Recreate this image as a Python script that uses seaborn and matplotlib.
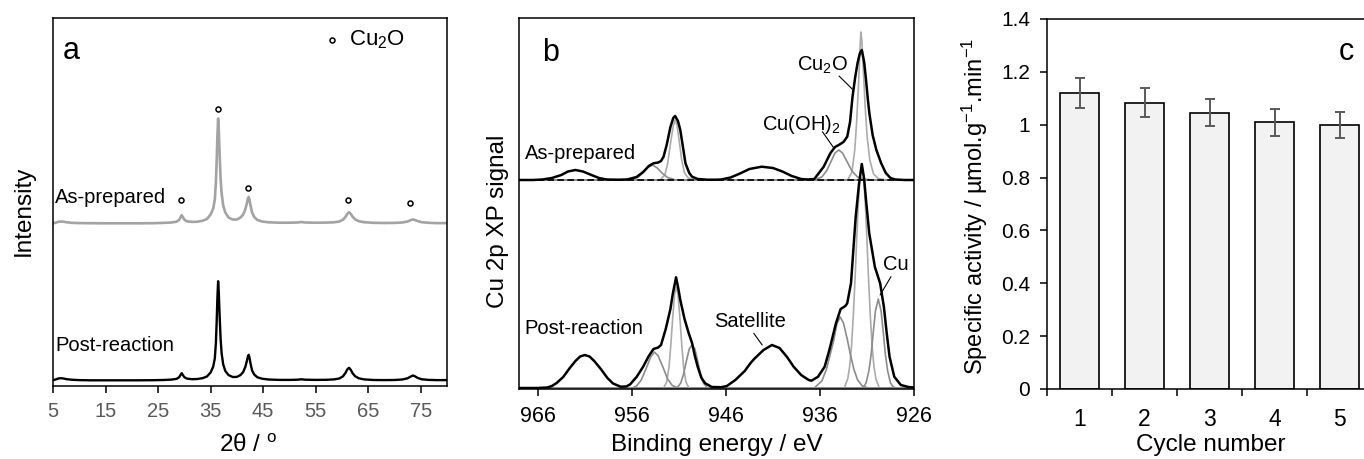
import numpy as np
import pandas as pd
import matplotlib
matplotlib.use("Agg")
import matplotlib.pyplot as plt
import seaborn as sns

# ---------------- Panel a : XRD ----------------
xrd_2theta = [5.0, 5.5, 6.0, 6.5, 7.0, 7.5, 8.5, 10, 12, 15, 18, 21, 24, 26, 27.5, 28.5,
              29.0, 29.3, 29.5, 29.7, 30.0, 30.5, 31.5, 32.5, 33.5, 34.3, 35.0, 35.5, 35.8,
              36.0, 36.15, 36.3, 36.43, 36.55, 36.7, 36.9, 37.1, 37.4, 37.8, 38.4, 39.2, 40.0,
              40.7, 41.2, 41.6, 41.9, 42.1, 42.25, 42.4, 42.6, 42.9, 43.3, 43.9, 44.8, 46, 48,
              50, 51.5, 52.3, 53, 55, 57, 58.5, 59.5, 60.2, 60.7, 61.0, 61.35, 61.7, 62.0, 62.5,
              63.2, 64.2, 66, 68, 70, 71.5, 72.5, 73.1, 73.5, 73.9, 74.4, 75.2, 76.5, 78, 80]
xrd_as_prepared = [0.2, 0.8, 1.7, 2.0, 1.8, 1.3, 0.7, 0.4, 0.3, 0.2, 0.2, 0.2, 0.3, 0.6, 1.0, 1.8,
                   3.5, 6.5, 8.3, 6.5, 3.8, 2.2, 1.6, 1.8, 2.8, 4.5, 9, 15, 24,
                   40, 62, 88, 105, 94, 72, 45, 30, 18, 11, 6, 4, 4,
                   6, 9, 14, 20, 25, 26.6, 24, 18, 11, 6.5, 3.5, 2, 1.2, 0.8,
                   0.8, 1.0, 1.5, 1.0, 0.8, 0.9, 1.2, 2.0, 3.8, 6.8, 9.5, 11.3, 9.5, 7, 4.2,
                   2.3, 1.3, 0.7, 0.5, 0.6, 1.0, 2.0, 3.4, 4.0, 3.5, 2.4, 1.3, 0.7, 0.4, 0.4]
xrd_post_reaction = [0.3, 1.0, 2.0, 2.3, 2.0, 1.4, 0.8, 0.4, 0.2, 0.2, 0.2, 0.2, 0.3, 0.5, 0.9, 1.6,
                     3.2, 5.8, 7.3, 5.6, 3.3, 1.9, 1.3, 1.5, 2.4, 4.0, 8.0, 14, 22,
                     37, 58, 84, 99.3, 89, 67, 42, 27, 16, 9.5, 5.5, 3.5, 3.6,
                     5.5, 8.5, 13.5, 19.5, 24, 25.7, 23, 17, 10, 6, 3.2, 1.8, 1.0, 0.6,
                     0.6, 0.8, 1.2, 0.8, 0.6, 0.7, 1.1, 2.0, 4.2, 7.8, 11, 12.7, 10.5, 7.5, 4.3,
                     2.2, 1.1, 0.5, 0.4, 0.5, 1.0, 2.2, 4.0, 5.0, 4.2, 2.6, 1.2, 0.6, 0.4, 0.4]
cu2o_marker_2theta = [29.4, 36.4, 42.2, 61.2, 73.0]
cu2o_marker_height = [186, 277.5, 198, 186, 183.5]
XRD_OFFSET_PREP = 162.5
XRD_OFFSET_POST = 5.5

# ---------------- Panel b : XPS Cu 2p ----------------
be_prep = [968, 966.5, 965.5, 964.5, 963.5, 962.8, 962, 961.2, 960.3, 959.5, 958.7, 957.5, 956.5,
           955.5, 954.8, 954.2, 953.7, 953.2, 952.9, 952.63, 952.3, 951.9, 951.6, 951.4, 951.1,
           950.85, 950.55, 950.3, 949.9, 949.6, 949, 948, 947, 946.5, 945.5, 944.5, 943.5, 942.2,
           941, 940, 939, 938, 937.3, 936.6, 935.6, 934.9, 934.4, 934.0, 933.5, 933.1, 932.8,
           932.54, 932.25, 932.0, 931.75, 931.55, 931.3, 931.1, 930.9, 930.75, 930.4, 930.0,
           929.5, 929.0, 928.5, 928, 927, 926]
sig_prep = [0, 0, 0.5, 2, 5, 8.5, 10, 8.5, 5, 2, 0.5, 0.3, 0.5,
            3, 8, 14, 16.7, 17.5, 19, 23.3, 35, 53, 62, 64, 59,
            50, 32, 16.7, 7, 3.3, 1, 0.3, 0.3, 0.5, 2.5, 6.5, 11, 13.3,
            12, 8.5, 4, 1, 0.5, 1, 13.3, 26.7, 33, 35, 38, 43.3, 58,
            83, 103, 117, 127, 130, 118, 100, 80, 67, 45, 30,
            17, 7, 2, 0.5, 0, 0]
prep_cu2o_32_be = [933.0, 932.6, 932.3, 932.1, 931.9, 931.75, 931.65, 931.55, 931.4, 931.2,
                   931.0, 930.7, 930.3, 929.8, 929.2]
prep_cu2o_32_sig = [1, 8, 30, 58, 95, 130, 148, 140, 112, 75, 45, 20, 6, 1.5, 0.5]
prep_cuoh_32_be = [936.5, 935.8, 935.3, 934.8, 934.4, 934.0, 933.6, 933.1, 932.6, 932.0, 931.3, 930.5]
prep_cuoh_32_sig = [0.3, 3, 9, 19, 27, 30, 27, 18, 9, 3, 0.8, 0.2]
prep_cu2o_12_be = [952.9, 952.5, 952.2, 951.9, 951.6, 951.4, 951.2, 950.95, 950.7, 950.4, 950.0, 949.5]
prep_cu2o_12_sig = [1, 5, 16, 36, 54, 60, 55, 38, 20, 7, 2, 0.5]
prep_cuoh_12_be = [956.0, 955.3, 954.8, 954.3, 953.8, 953.3, 952.8, 952.2, 951.5]
prep_cuoh_12_sig = [0.3, 3, 7.5, 12.5, 15, 12, 7, 2.5, 0.5]

be_post = [968, 966, 965, 964.5, 964, 963.3, 962.6, 962, 961.5, 961.0, 960.5, 960, 959.3, 958.6,
           958, 957.2, 956.6, 956.2, 955.5, 954.8, 954.2, 953.7, 953.2, 952.9, 952.4, 951.9,
           951.65, 951.3, 951.05, 950.85, 950.4, 949.95, 949.6, 949.3, 949.0, 948.6, 948.2,
           947.5, 946.5, 945.9, 945, 944, 943.4, 943, 942, 941.1, 940.3, 939.5, 938.8, 938,
           937.2, 936.9, 936.2, 935.5, 935.0, 934.3, 933.8, 933.3, 933.1, 932.7, 932.45, 932.2,
           931.85, 931.55, 931.3, 931.1, 930.76, 930.16, 929.6, 929.2, 928.9, 928.6, 928.1,
           927.4, 926.6, 926]
sig_post = [1, 1, 1.5, 3, 6, 12, 21, 28, 32.5, 34, 32.5, 28, 20, 11,
            5.5, 2.3, 2.5, 4.5, 12, 22.3, 33, 40, 41.5, 44, 60, 80,
            95, 111.7, 100, 89, 70, 55.7, 46, 33, 22.3, 11, 5.7,
            2, 1.8, 3, 9, 18, 25.7, 30, 39, 44, 41, 32, 22.3, 14,
            9, 8.3, 12.3, 22.3, 39, 65.7, 80, 83, 85.7, 105.7, 139, 172,
            205, 225, 210, 189, 155.7, 122, 105.7, 82, 55.7, 32.3, 12.3,
            4, 2, 1.5]
post_cu2o_32_be = [933.35, 933.05, 932.85, 932.65, 932.45, 932.26, 932.1, 931.95, 931.75, 931.55,
                   931.35, 931.15, 931.0, 930.84, 930.65, 930.45, 930.25, 930.05, 929.75]
post_cu2o_32_sig = [2.7, 10, 22, 42, 74, 112, 148, 180, 212, 224, 212, 180, 148, 112, 74, 42, 22, 10, 2.7]
post_cuoh_32_be = [936.5, 935.8, 935.3, 934.9, 934.55, 934.2, 933.85, 933.5, 933.1, 932.8, 932.4,
                   932.0, 931.5, 930.8]
post_cuoh_32_sig = [2, 8, 20, 35, 48, 65, 72, 66, 50, 36, 20, 9, 3, 0.8]
post_cu_32_be = [931.4, 931.1, 930.8, 930.55, 930.35, 930.1, 929.8, 929.5, 929.25, 929.05, 928.8,
                 928.5, 928.2, 927.8]
post_cu_32_sig = [1.5, 6, 18, 35, 55, 78, 90, 78, 55, 35, 18, 6, 2, 0.5]
post_cu2o_12_be = [952.6, 952.3, 952.05, 951.85, 951.65, 951.45, 951.28, 951.1, 950.9, 950.7,
                   950.5, 950.25, 949.95]
post_cu2o_12_sig = [1.5, 7, 22, 45, 72, 95, 102, 95, 72, 45, 22, 7, 1.5]
post_cuoh_12_be = [956.0, 955.5, 955.0, 954.5, 954.0, 953.6, 953.2, 952.7, 952.2, 951.7, 951.1]
post_cuoh_12_sig = [0.8, 3, 9, 20, 32, 37, 33, 22, 10, 3.5, 1]
post_cu_12_be = [951.2, 950.8, 950.5, 950.2, 949.9, 949.6, 949.3, 949.0, 948.7, 948.4, 948.0]
post_cu_12_sig = [1, 6, 15, 28, 40, 44, 40, 28, 15, 6, 1.5]
XPS_OFFSET_PREP = 209

# ---------------- Panel c : recycling ----------------
cycles = ["1", "2", "3", "4", "5"]
activity = [1.119, 1.084, 1.046, 1.010, 0.998]
activity_err = [0.057, 0.055, 0.052, 0.051, 0.050]
c_yticks = [0, 0.2, 0.4, 0.6, 0.8, 1.0, 1.2, 1.4]
c_yticklabels = ["0", "0.2", "0.4", "0.6", "0.8", "1", "1.2", "1.4"]

# ---------------- style ----------------
sns.set_theme(style="ticks")
plt.rcParams['font.family'] = ['Liberation Sans', 'DejaVu Sans']
plt.rcParams['mathtext.default'] = 'regular'
plt.rcParams['axes.linewidth'] = 1.1
plt.rcParams['axes.edgecolor'] = 'black'
plt.rcParams['text.color'] = 'black'
plt.rcParams['axes.labelcolor'] = 'black'
plt.rcParams['xtick.color'] = 'black'
plt.rcParams['ytick.color'] = 'black'

fig = plt.figure(figsize=(13.64, 4.59), dpi=100)
axa = fig.add_axes([0.03886, 0.15904, 0.28886, 0.80174])
axb = fig.add_axes([0.38050, 0.15251, 0.28959, 0.80828])
axc = fig.add_axes([0.76760, 0.15251, 0.23827, 0.80610])

BLACK = "black"
GREY_A = "#a3a3a3"
LIGHT = "#ababab"
MID = "#8c8c8c"

# ---- panel a ----
sns.lineplot(x=xrd_2theta, y=np.array(xrd_as_prepared) + XRD_OFFSET_PREP, ax=axa,
             color=GREY_A, lw=1.9, sort=False, estimator=None)
sns.lineplot(x=xrd_2theta, y=np.array(xrd_post_reaction) + XRD_OFFSET_POST, ax=axa,
             color=BLACK, lw=1.7, sort=False, estimator=None)
sns.scatterplot(x=cu2o_marker_2theta, y=cu2o_marker_height, ax=axa, marker="o", s=13,
                facecolor="white", edgecolor="black", linewidth=1.1, label="Cu$_2$O", zorder=5)
axa.set_xlim(5, 80)
axa.set_ylim(0, 368)
axa.set_xticks([5, 15, 25, 35, 45, 55, 65, 75])
axa.set_yticks([])
axa.tick_params(axis='x', direction='out', length=5, width=1.1, labelsize=14.5,
                labelcolor='#595959', pad=6.5, top=False)
axa.set_xlabel("2θ / $^{o}$", fontsize=17.5)
axa.set_ylabel("Intensity", fontsize=17.5)
axa.xaxis.set_label_coords(0.495, -0.163)
axa.xaxis.label.set_va('center')
axa.yaxis.set_label_coords(-0.074, 0.476)
axa.yaxis.label.set_va('center')
axa.text(5.32, 188.3, "As-prepared", fontsize=14.5, ha='left', va='center')
axa.text(5.51, 40.3, "Post-reaction", fontsize=14.5, ha='left', va='center')
axa.text(0.026, 0.888, "a", transform=axa.transAxes, fontsize=22, ha='left', va='baseline')
leg = axa.legend(loc='center left', bbox_to_anchor=(0.6855, 0.940), frameon=False,
                 fontsize=16, handlelength=0.8, handletextpad=0.36, borderpad=0,
                 borderaxespad=0, scatterpoints=1)

# ---- panel b ----
def xps_line(be, sig, offset, color, lw, z):
    sns.lineplot(x=be, y=np.array(sig) + offset, ax=axb, color=color, lw=lw,
                 sort=False, estimator=None, zorder=z)

# baselines
sns.lineplot(x=[968, 926], y=[XPS_OFFSET_PREP, XPS_OFFSET_PREP], ax=axb, color=MID, lw=1.4,
             estimator=None, zorder=1)
sns.lineplot(x=[968, 926], y=[XPS_OFFSET_PREP, XPS_OFFSET_PREP], ax=axb, color=BLACK, lw=1.2,
             estimator=None, zorder=4, linestyle=(0, (4, 2)))
sns.lineplot(x=[968, 926], y=[0.8, 0.8], ax=axb, color=MID, lw=1.4, estimator=None, zorder=1)

xps_line(prep_cu2o_32_be, prep_cu2o_32_sig, XPS_OFFSET_PREP, LIGHT, 1.2, 2)
xps_line(prep_cuoh_32_be, prep_cuoh_32_sig, XPS_OFFSET_PREP, MID, 1.2, 2)
xps_line(prep_cu2o_12_be, prep_cu2o_12_sig, XPS_OFFSET_PREP, LIGHT, 1.2, 2)
xps_line(prep_cuoh_12_be, prep_cuoh_12_sig, XPS_OFFSET_PREP, MID, 1.2, 2)
xps_line(be_prep, sig_prep, XPS_OFFSET_PREP, BLACK, 1.8, 3)

xps_line(post_cu2o_32_be, post_cu2o_32_sig, 0, LIGHT, 1.2, 2)
xps_line(post_cuoh_32_be, post_cuoh_32_sig, 0, MID, 1.2, 2)
xps_line(post_cu_32_be, post_cu_32_sig, 0, MID, 1.2, 2)
xps_line(post_cu2o_12_be, post_cu2o_12_sig, 0, LIGHT, 1.2, 2)
xps_line(post_cuoh_12_be, post_cuoh_12_sig, 0, MID, 1.2, 2)
xps_line(post_cu_12_be, post_cu_12_sig, 0, MID, 1.2, 2)
xps_line(be_post, sig_post, 0, BLACK, 1.8, 3)

axb.set_xlim(968, 926)
axb.set_ylim(0, 371)
axb.set_xticks([966, 956, 946, 936, 926])
axb.set_yticks([])
axb.tick_params(axis='x', direction='out', length=5, width=1.1, labelsize=15.5,
                labelcolor='black', pad=7, top=False)
axb.set_xlabel("Binding energy / eV", fontsize=17.5)
axb.set_ylabel("Cu 2p XP signal", fontsize=17.5)
axb.xaxis.set_label_coords(0.5005, -0.151)
axb.xaxis.label.set_va('center')
axb.yaxis.set_label_coords(-0.054, 0.451)
axb.yaxis.label.set_va('center')
axb.text(0.058, 0.885, "b", transform=axb.transAxes, fontsize=22, ha='left', va='baseline')
axb.text(967.4, 235.7, "As-prepared", fontsize=14.5, ha='left', va='center')
axb.text(967.4, 60.7, "Post-reaction", fontsize=14.5, ha='left', va='center')
ann_kw = dict(fontsize=14.5, ha='center', va='center')
axb.text(935.74, 324, "Cu$_2$O", **ann_kw)
axb.plot([933.97, 932.54], [313, 299.7], color='black', lw=0.8)
axb.text(937.98, 264, "Cu(OH)$_2$", **ann_kw)
axb.plot([935.74, 934.5], [257.3, 240.7], color='black', lw=0.8)
axb.text(943.39, 67.3, "Satellite", **ann_kw)
axb.plot([943.04, 942.14], [55.7, 44], color='black', lw=0.8)
axb.text(927.92, 124, "Cu", **ann_kw)
axb.plot([928.45, 929.6], [112.3, 94], color='black', lw=0.8)

# ---- panel c ----
sns.barplot(x=cycles, y=activity, ax=axc, color="#f2f2f2", edgecolor="black",
            linewidth=1.2, width=0.6, errorbar=None, saturation=1)
axc.errorbar(x=np.arange(len(cycles)), y=activity, yerr=activity_err, fmt='none',
             ecolor='#595959', elinewidth=1.4, capsize=3.6, capthick=1.4, zorder=5)
axc.set_xlim(-0.5, 4.5)
axc.set_ylim(0, 1.4)
axc.set_yticks(c_yticks)
axc.set_yticklabels(c_yticklabels)
axc.set_xticks(np.arange(len(cycles)))
axc.set_xticklabels(cycles)
axc.set_xticks(np.arange(-0.5, 4.0, 1.0), minor=True)
axc.tick_params(axis='x', which='major', length=0, labelsize=16.5, pad=14, labelcolor='black')
axc.tick_params(axis='x', which='minor', length=5.3, width=1.1, direction='out')
axc.tick_params(axis='y', length=5.3, width=1.1, direction='out', labelsize=15, pad=7,
                labelcolor='black')
axc.set_xlabel("Cycle number", fontsize=17.5)
axc.set_ylabel("Specific activity / µmol.g$^{-1}$.min$^{-1}$", fontsize=17)
axc.xaxis.set_label_coords(0.504, -0.151)
axc.xaxis.label.set_va('center')
axc.yaxis.set_label_coords(-0.2215, 0.4927)
axc.yaxis.label.set_va('center')
axc.text(0.897, 0.888, "c", transform=axc.transAxes, fontsize=22, ha='left', va='baseline')

for ax in (axa, axb, axc):
    for sp in ax.spines.values():
        sp.set_visible(True)
        sp.set_linewidth(1.1)
        sp.set_color('black')

fig.savefig("out.png", dpi=100)
